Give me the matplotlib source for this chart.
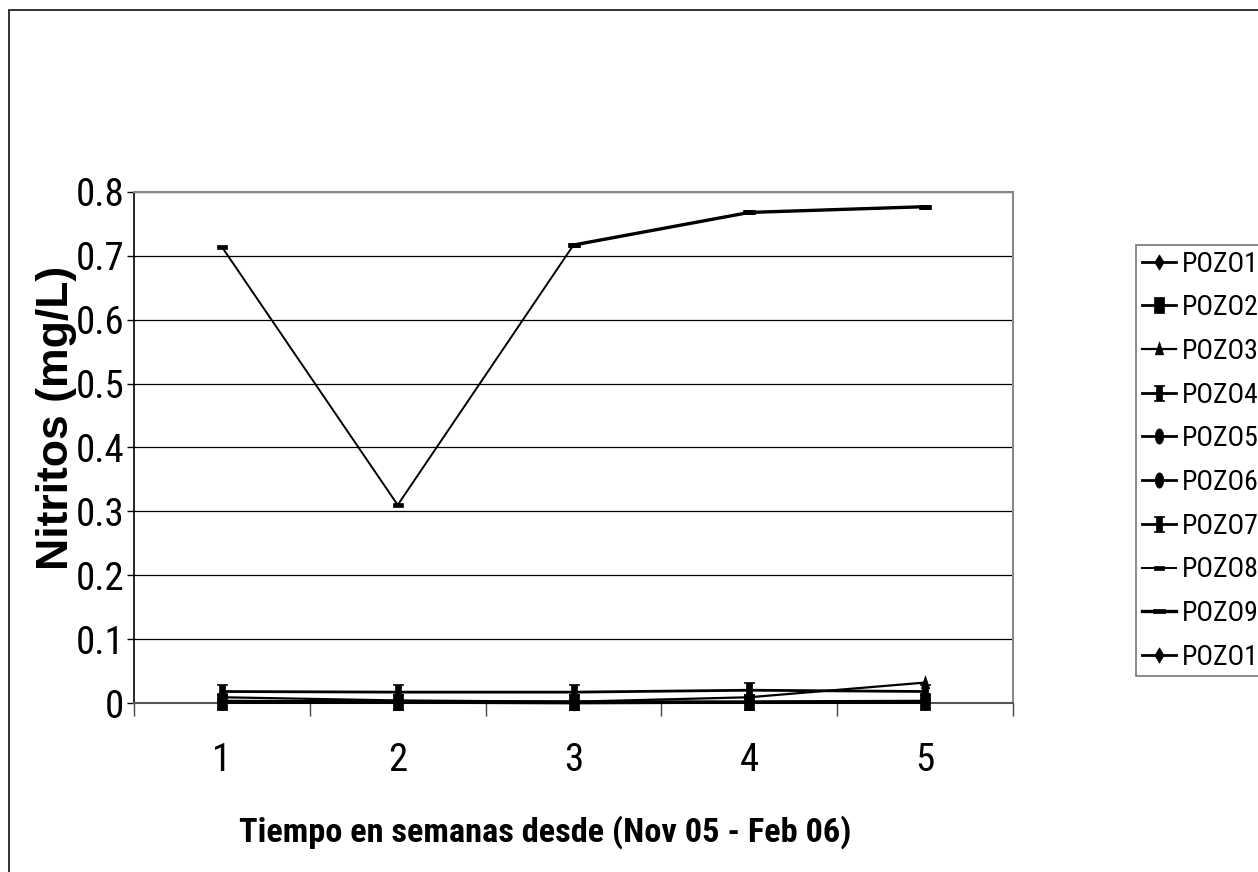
import os
import numpy as np
import matplotlib
matplotlib.use("Agg")
import matplotlib.pyplot as plt
from matplotlib import font_manager as fm
from matplotlib.path import Path
from matplotlib.patches import Rectangle

# ---- data -------------------------------------------------------------
weeks = [1, 2, 3, 4, 5]
series_names = ["POZO1", "POZO2", "POZO3", "POZO4", "POZO5",
                "POZO6", "POZO7", "POZO8", "POZO9", "POZO10"]
pozo1 = [0.002, 0.001, 0.001, 0.001, 0.002]
pozo2 = [0.003, 0.002, 0.002, 0.002, 0.003]
pozo3 = [0.009, 0.004, 0.002, 0.009, 0.032]
pozo4 = [0.001, 0.001, 0.001, 0.001, 0.001]
pozo5 = [0.002, 0.002, 0.001, 0.001, 0.001]
pozo6 = [0.001, 0.001, 0.001, 0.001, 0.001]
pozo7 = [0.018, 0.017, 0.017, 0.020, 0.018]
pozo8 = [0.714, 0.310, 0.717, 0.768, 0.777]
pozo9 = [np.nan, np.nan, 0.717, 0.768, 0.777]
pozo10 = [0.001, 0.001, 0.000, 0.001, 0.001]
y_ticks = [0, 0.1, 0.2, 0.3, 0.4, 0.5, 0.6, 0.7, 0.8]
y_tick_labels = ["0", "0.1", "0.2", "0.3", "0.4", "0.5", "0.6", "0.7", "0.8"]
x_title = "Tiempo en semanas desde (Nov 05 - Feb 06)"
y_title = "Nitritos (mg/L)"

values = [pozo1, pozo2, pozo3, pozo4, pozo5, pozo6, pozo7, pozo8, pozo9, pozo10]


# ---- fonts: prefer a narrow sans if one is installed ----------------
def pick_font(candidates, fallback_family, weight="normal"):
    files = {os.path.basename(f.fname).lower(): f.fname for f in fm.fontManager.ttflist}
    for name in candidates:
        if name.lower() in files:
            return fm.FontProperties(fname=files[name.lower()])
    return fm.FontProperties(family=fallback_family, weight=weight)


narrow_regular = pick_font(
    ["LiberationSansNarrow-Regular.ttf", "RobotoCondensed-Regular.ttf",
     "NotoSans-Condensed.ttf", "NotoSans-CondensedRegular.ttf",
     "OpenSans-CondensedRegular.ttf", "DejaVuSansCondensed.ttf"],
    "Liberation Sans")
narrow_bold = pick_font(
    ["LiberationSansNarrow-Bold.ttf", "RobotoCondensed-Bold.ttf",
     "NotoSans-CondensedBold.ttf", "OpenSans-CondensedBold.ttf",
     "DejaVuSansCondensed-Bold.ttf"],
    "Liberation Sans", weight="bold")


def sized(fp, size):
    p = fp.copy()
    p.set_size(size)
    return p


# ---- marker shapes (tall, narrow) ------------------------------------
def poly(pts):
    pts = list(pts) + [pts[0]]
    codes = [Path.MOVETO] + [Path.LINETO] * (len(pts) - 2) + [Path.CLOSEPOLY]
    return Path(pts, codes)


diamond = poly([(0, 1), (0.6, 0), (0, -1), (-0.6, 0)])
square = poly([(-0.55, -1), (0.55, -1), (0.55, 1), (-0.55, 1)])
triangle = poly([(0, 1), (0.55, -0.7), (-0.55, -0.7)])
ibeam = poly([(-0.6, -1), (0.6, -1), (0.6, -0.8), (0.4, -0.8), (0.4, 0.8),
              (0.6, 0.8), (0.6, 1), (-0.6, 1), (-0.6, 0.8), (-0.4, 0.8),
              (-0.4, -0.8), (-0.6, -0.8)])
t = np.linspace(0, 2 * np.pi, 40, endpoint=False)
ellipse = poly(list(zip(0.55 * np.cos(t), np.sin(t))))
dash_small = poly([(-1, -0.35), (1, -0.35), (1, 0.35), (-1, 0.35)])
dash_wide = poly([(-1, -0.3), (1, -0.3), (1, 0.3), (-1, 0.3)])

markers = [diamond, square, triangle, ibeam, ellipse, ellipse, ibeam,
           dash_small, dash_wide, diamond]
msizes = [11, 12, 11, 12, 11, 11, 12, 7, 9, 11]
lwidths = [2.0, 2.0, 1.6, 2.0, 2.0, 2.0, 2.0, 1.4, 2.4, 2.0]

# ---- figure ----------------------------------------------------------
W, H = 1258, 872
fig = plt.figure(figsize=(W / 100, H / 100), dpi=100)
fig.patch.set_facecolor("white")


def fx(px):
    return px / W


def fy(py):
    return 1 - py / H


# outer chart frame
fig.patches.append(Rectangle((fx(9), fy(912)), 1.2, fy(10) - fy(912),
                             transform=fig.transFigure, fill=False,
                             edgecolor="#222222", linewidth=1.3))

left, right, top, bottom = 134, 1013, 192, 703
ax = fig.add_axes([fx(left), fy(bottom), fx(right) - fx(left), fy(top) - fy(bottom)])

for vals, name, mk, ms, lw in zip(values, series_names, markers, msizes, lwidths):
    ax.plot(weeks, vals, color="black", linewidth=lw, marker=mk,
            markersize=ms, markerfacecolor="black", markeredgecolor="black",
            markeredgewidth=0.5, label=name, clip_on=False, zorder=3)

ax.set_xlim(0.5, 5.5)
ax.set_ylim(0, 0.8)

tick_fp = sized(narrow_regular, 28)

# y axis
ax.set_yticks(y_ticks)
ax.set_yticklabels(y_tick_labels, fontproperties=tick_fp)
ax.tick_params(axis="y", length=5, width=1, direction="out", pad=2, colors="black")
ax.yaxis.grid(True, color="black", linewidth=0.9)
ax.set_axisbelow(True)

# x axis: ticks at category boundaries, labels at category centres
ax.set_xticks(np.arange(0.5, 5.6, 1.0))
ax.set_xticklabels([])
ax.set_xticks(weeks, minor=True)
ax.set_xticklabels([str(w) for w in weeks], minor=True, fontproperties=tick_fp)
ax.tick_params(axis="x", which="major", length=9, width=1, direction="out", color="#444444")
ax.tick_params(axis="x", which="minor", length=0, pad=28)

for s in ("top", "right"):
    ax.spines[s].set_color("#888888")
    ax.spines[s].set_linewidth(1.5)
ax.spines["left"].set_color("black")
ax.spines["left"].set_linewidth(1.2)
ax.spines["bottom"].set_color("#555555")
ax.spines["bottom"].set_linewidth(1.5)

# axis titles
fig.text(fx(57), fy(418), y_title, rotation=90, ha="center", va="center",
         family=["Liberation Sans", "DejaVu Sans"], fontweight="bold", fontsize=32)

xt = fig.text(fx(545), fy(832), x_title, ha="center", va="center",
              fontproperties=sized(narrow_bold, 28))
renderer = fig.canvas.get_renderer()
w_now = xt.get_window_extent(renderer).width
xt.set_fontsize(min(30, 28 * 614 / w_now))

# legend (runs past the right edge)
handles, labels = ax.get_legend_handles_labels()
leg = fig.legend(handles, labels, loc="upper left",
                 bbox_to_anchor=(fx(1136), fy(245)), bbox_transform=fig.transFigure,
                 frameon=True, fancybox=False, borderaxespad=0,
                 prop=sized(narrow_regular, 20),
                 handlelength=1.25, handletextpad=0.2, labelspacing=0.6,
                 borderpad=0.2)
leg.get_frame().set_edgecolor("#555555")
leg.get_frame().set_linewidth(1.2)

fig.savefig("out.png", dpi=100)
